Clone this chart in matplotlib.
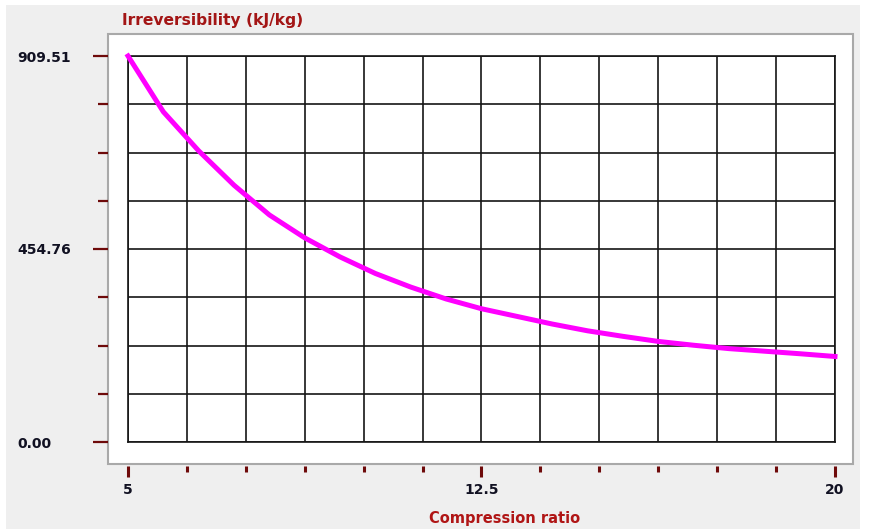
import numpy as np
import matplotlib
matplotlib.use("Agg")
import matplotlib.pyplot as plt
from matplotlib.patches import Rectangle
from matplotlib.ticker import MultipleLocator

# compression ratio vs irreversibility
ratio = [5, 5.75, 6.5, 7.25, 8, 8.75, 9.5, 10.25, 11, 11.75, 12.5,
         13.25, 14, 14.75, 15.5, 16.25, 17, 17.75, 18.5, 19.25, 20]
irr = [909.51, 778, 686, 605, 535, 481, 436, 397, 365, 337, 314,
       296, 278, 262, 249, 237, 228, 220, 214, 208, 201.5]

y_max = 909.51
y_ticks = [0, 454.76, 909.51]
y_labels = ["0.00", "454.76", "909.51"]
x_ticks = [5, 12.5, 20]
x_labels = ["5", "12.5", "20"]

W, H = 870, 529
fig = plt.figure(figsize=(W / 100, H / 100), dpi=100, facecolor="white")

def fx(px):
    return px / W

def fy(py):
    return 1 - py / H

# grey window background and white plot panel
fig.add_artist(Rectangle((fx(6), 0), fx(860) - fx(6), fy(5), transform=fig.transFigure,
                         facecolor="#efefef", edgecolor="none", zorder=-2))
fig.add_artist(Rectangle((fx(108), fy(464)), fx(853) - fx(108), fy(34) - fy(464),
                         transform=fig.transFigure, facecolor="white",
                         edgecolor="#a9a9a9", linewidth=1.5, zorder=-1))

ax = fig.add_axes([fx(128), fy(442), fx(835) - fx(128), fy(56) - fy(442)])
ax.set_facecolor("white")
ax.set_xlim(5, 20)
ax.set_ylim(0, y_max)
ax.xaxis.set_major_locator(MultipleLocator(1.25))
ax.yaxis.set_major_locator(MultipleLocator(y_max / 8))
ax.grid(True, color="#151515", linewidth=1.2)
ax.tick_params(length=0, labelbottom=False, labelleft=False)
for s in ax.spines.values():
    s.set_color("#151515")
    s.set_linewidth(1.2)

ax.plot(ratio, irr, color="#ff00ff", linewidth=3.6, clip_on=False, zorder=5)

tick_col = "#6e0a0a"
lab_col = "#111122"

# y ticks sit outside the white panel
sy = ax.secondary_yaxis(-(128 - 108) / 707)
sy.spines["left"].set_visible(False)
sy.set_yticks(y_ticks, y_labels)
sy.set_yticks(np.arange(0, y_max + 1, y_max / 8), minor=True)
sy.tick_params(which="major", direction="out", length=11, width=1.6, color=tick_col,
               pad=54, labelsize=10, labelcolor=lab_col)
sy.tick_params(which="minor", direction="out", length=7, width=1.6, color=tick_col)
for lab in sy.get_yticklabels():
    lab.set_horizontalalignment("left")
    lab.set_fontweight("bold")

sx = ax.secondary_xaxis(-(466 - 442) / 386)
sx.spines["bottom"].set_visible(False)
sx.set_xticks(x_ticks, x_labels)
sx.xaxis.set_minor_locator(MultipleLocator(1.25))
sx.tick_params(which="major", direction="out", length=8, width=2.2, color=tick_col,
               pad=4, labelsize=10, labelcolor=lab_col)
sx.tick_params(which="minor", direction="out", length=4, width=2.2, color=tick_col)
for lab in sx.get_xticklabels():
    lab.set_fontweight("bold")

fig.text(fx(122), fy(20), "Irreversibility (kJ/kg)", color="#a31515", fontsize=11.2,
         fontweight="bold", ha="left", va="center")
fig.text(fx(505), fy(519), "Compression ratio", color="#b01515", fontsize=10.5,
         fontweight="bold", ha="center", va="center")

fig.savefig("out.png", dpi=100, facecolor="white")
